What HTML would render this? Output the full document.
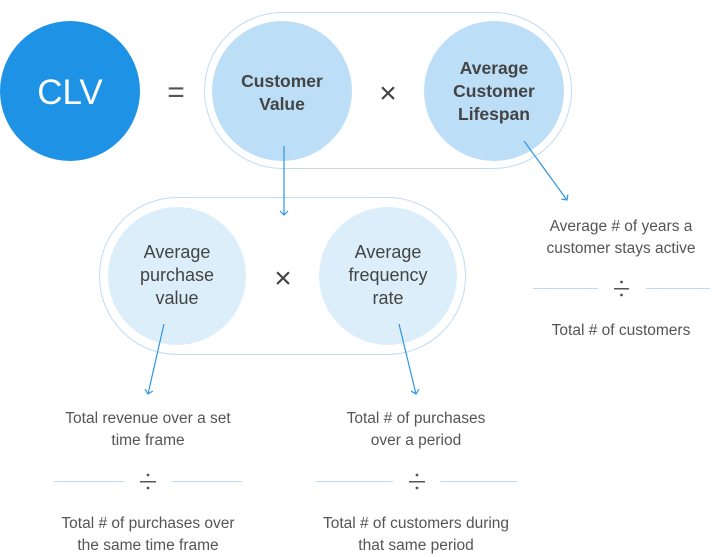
<!DOCTYPE html>
<html><head><meta charset="utf-8"><style>
html,body{margin:0;padding:0;background:#fff;}
svg{display:block;font-family:"Liberation Sans",sans-serif;}
</style></head><body>
<svg width="712" height="557" viewBox="0 0 712 557" xmlns="http://www.w3.org/2000/svg">
<defs>
<marker id="ah" markerWidth="10" markerHeight="10" refX="5" refY="5" orient="auto" markerUnits="userSpaceOnUse">
<path d="M1,1 L5,5 L1,9" fill="none" stroke="#2f95e6" stroke-width="1.2"/>
</marker>
</defs>
<circle cx="70" cy="91" r="70" fill="#1e93e6"/>
<text x="70" y="104" text-anchor="middle" font-size="35" fill="#fff">CLV</text>
<text x="176" y="102" text-anchor="middle" font-size="30" fill="#555">=</text>
<rect x="204.5" y="12.5" width="367" height="156" rx="78" fill="#fff" stroke="#bfdcf5"/>
<circle cx="282" cy="91" r="70" fill="#bcdff7"/>
<circle cx="494" cy="91" r="70" fill="#bcdff7"/>
<g font-size="17.5" font-weight="bold" fill="#444" text-anchor="middle">
<text x="282" y="87">Customer</text><text x="282" y="110">Value</text>
<text x="494" y="74">Average</text><text x="494" y="97">Customer</text><text x="494" y="120">Lifespan</text>
</g>
<text x="388" y="103" text-anchor="middle" font-size="30" fill="#444">×</text>
<rect x="99.5" y="197.5" width="366" height="157" rx="78" fill="#fff" stroke="#bfdcf5"/>
<circle cx="177" cy="276" r="69" fill="#ddeefb"/>
<circle cx="388" cy="276" r="69" fill="#ddeefb"/>
<g font-size="18" fill="#444" text-anchor="middle">
<text x="177" y="258">Average</text><text x="177" y="281">purchase</text><text x="177" y="304">value</text>
<text x="388" y="258">Average</text><text x="388" y="281">frequency</text><text x="388" y="304">rate</text>
</g>
<text x="283" y="288" text-anchor="middle" font-size="30" fill="#444">×</text>
<g stroke="#2f95e6" stroke-width="1.2" fill="none" marker-end="url(#ah)">
<line x1="284" y1="146" x2="284" y2="215"/>
<line x1="524" y1="141" x2="567" y2="200"/>
<line x1="164" y1="324" x2="148" y2="394"/>
<line x1="399" y1="324" x2="416" y2="394"/>
</g>
<g font-size="15.5" fill="#555" text-anchor="middle">
<text x="621" y="231">Average # of years a</text>
<text x="621" y="253">customer stays active</text>
<text x="621" y="335">Total # of customers</text>
<text x="148" y="423">Total revenue over a set</text>
<text x="148" y="445">time frame</text>
<text x="148" y="528">Total # of purchases over</text>
<text x="148" y="550">the same time frame</text>
<text x="416" y="423">Total # of purchases</text>
<text x="416" y="445">over a period</text>
<text x="416" y="528">Total # of customers during</text>
<text x="416" y="550">that same period</text>
</g>
<g stroke="#bcdcf5" stroke-width="1">
<line x1="533" y1="288.5" x2="598" y2="288.5"/><line x1="646" y1="288.5" x2="710" y2="288.5"/>
<line x1="54" y1="481.5" x2="124" y2="481.5"/><line x1="172" y1="481.5" x2="242" y2="481.5"/>
<line x1="316" y1="481.5" x2="393" y2="481.5"/><line x1="440" y1="481.5" x2="517" y2="481.5"/>
</g>
<g fill="#555">
<rect x="614" y="288" width="15" height="1.5"/><circle cx="621.5" cy="282" r="1.4"/><circle cx="621.5" cy="295" r="1.4"/>
<rect x="140" y="481" width="16" height="1.5"/><circle cx="148" cy="475" r="1.4"/><circle cx="148" cy="488" r="1.4"/>
<rect x="409" y="481" width="16" height="1.5"/><circle cx="417" cy="475" r="1.4"/><circle cx="417" cy="488" r="1.4"/>
</g>
</svg>
</body></html>
